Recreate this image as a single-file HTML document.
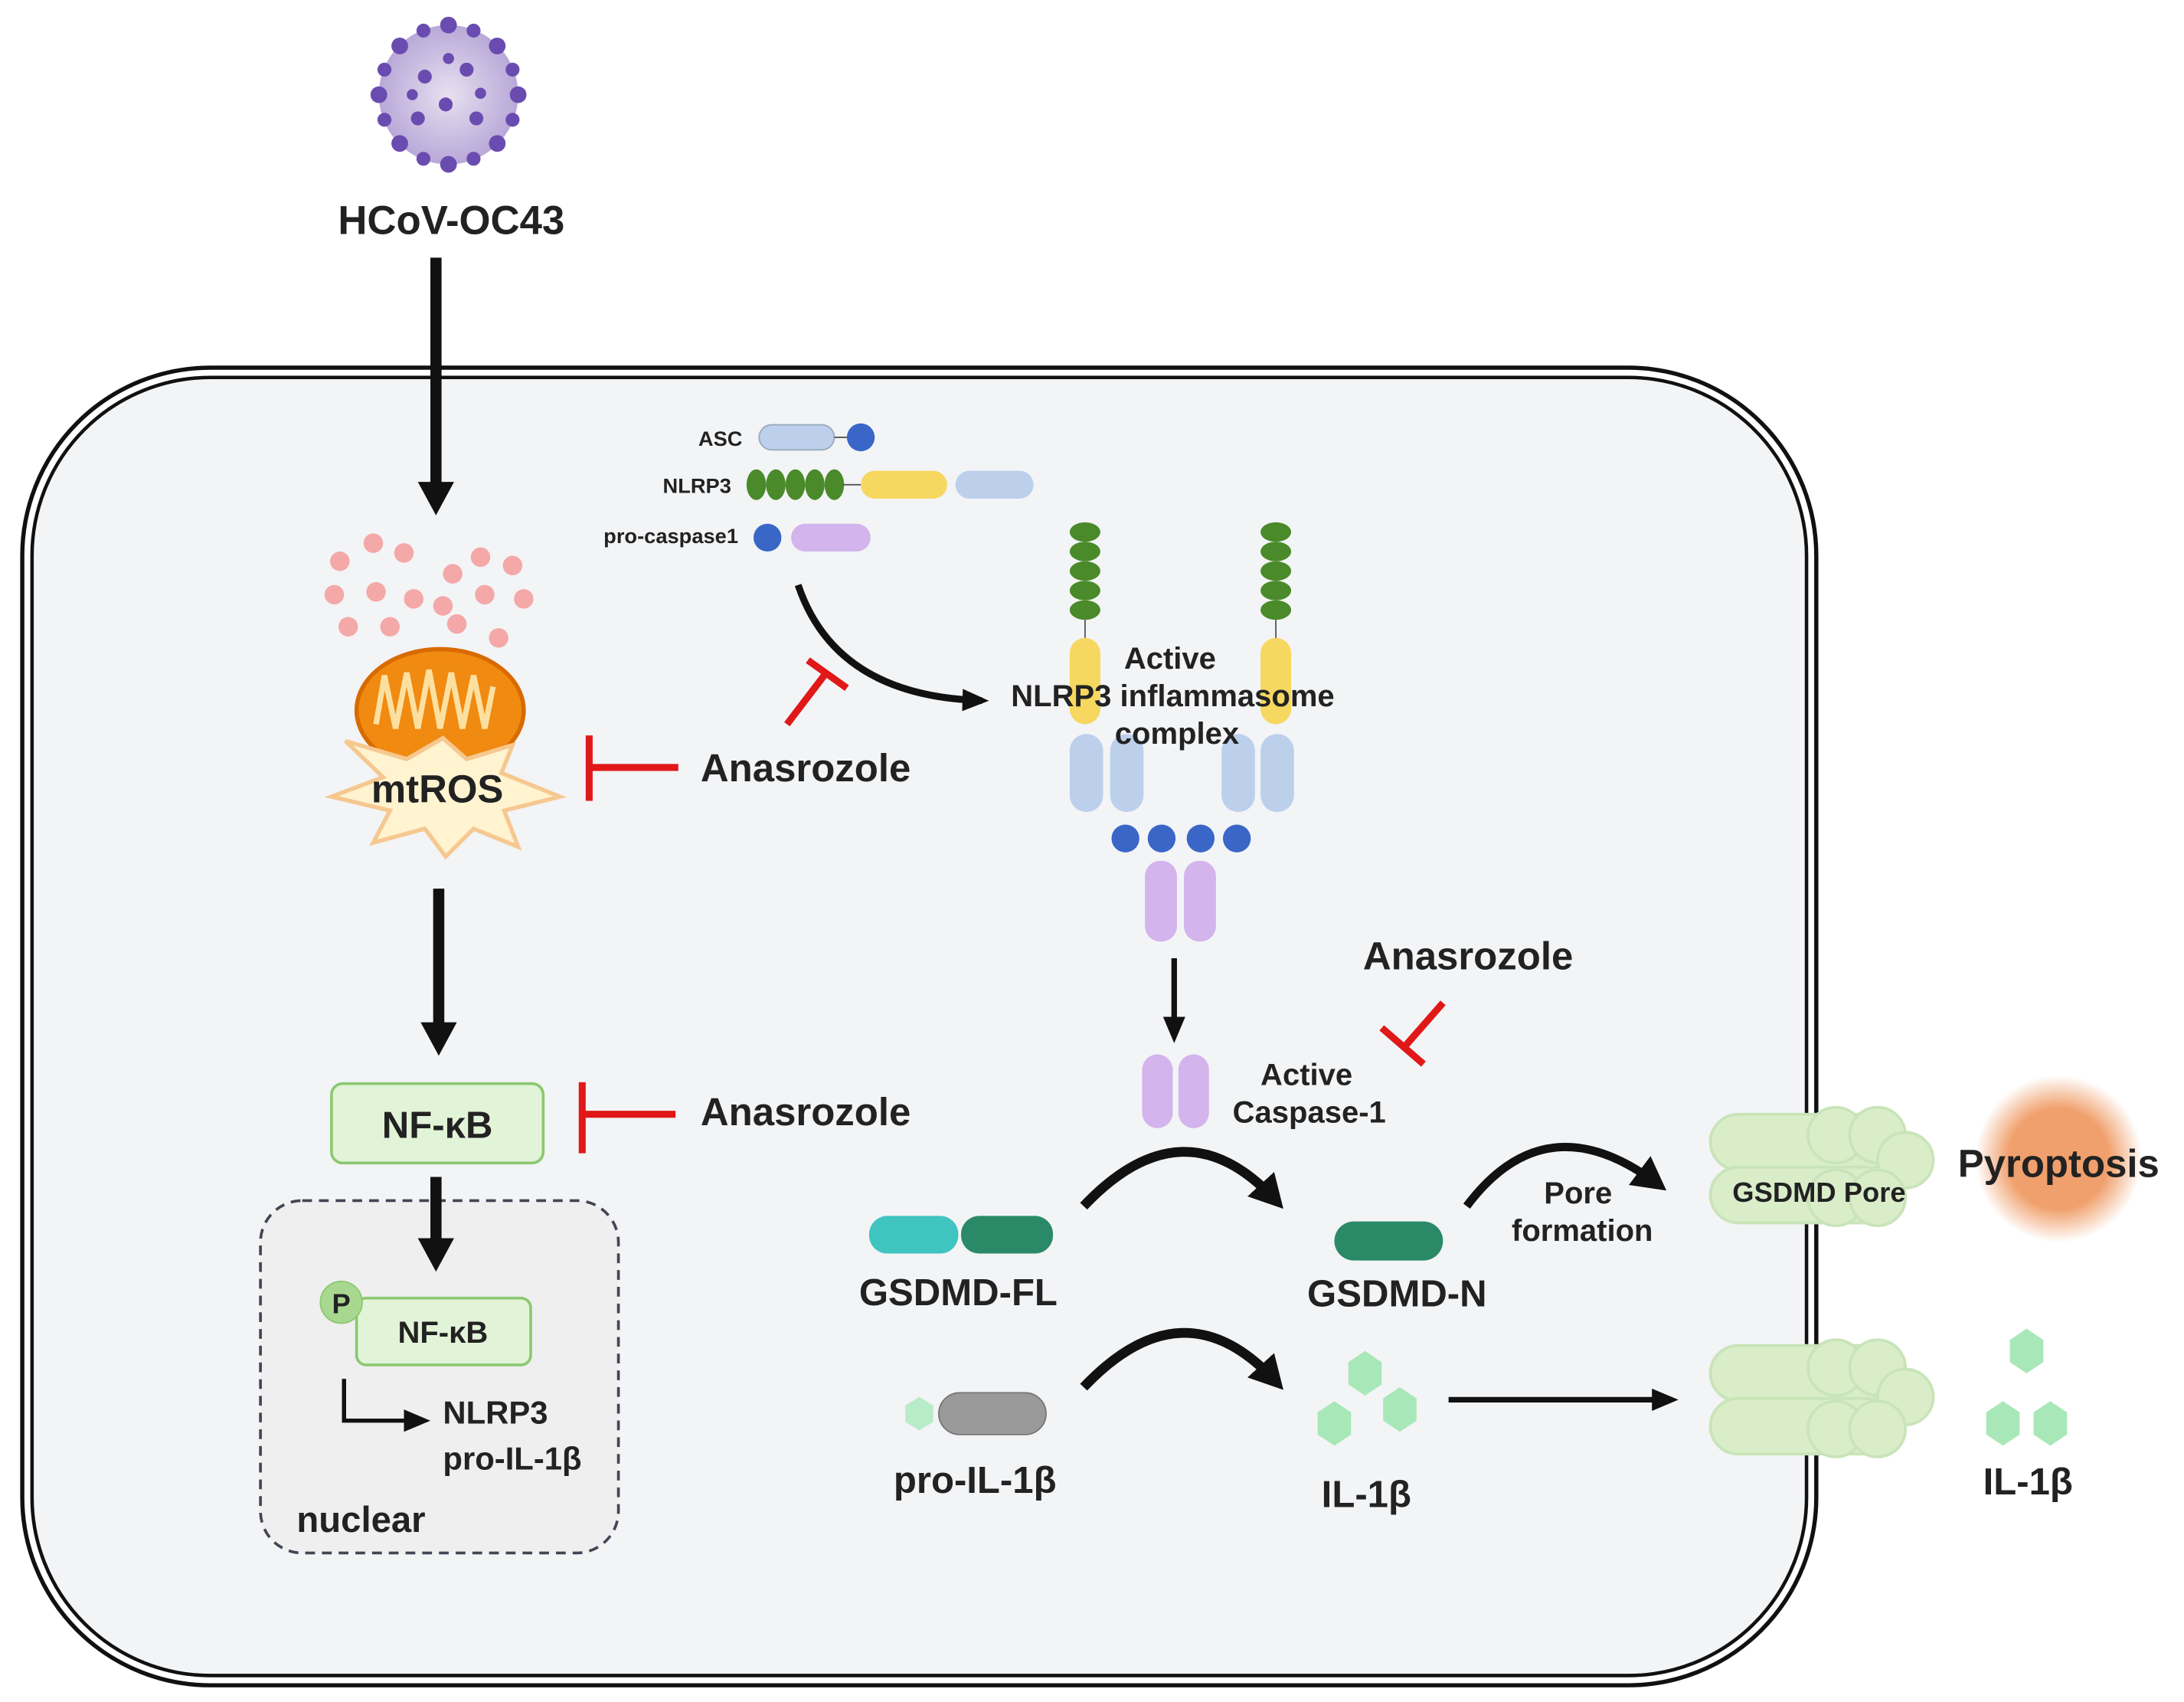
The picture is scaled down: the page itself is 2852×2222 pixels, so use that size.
<!DOCTYPE html>
<html><head><meta charset="utf-8"><style>
html,body{margin:0;padding:0;background:#fff;}
svg{display:block;}
text{font-family:"Liberation Sans",sans-serif;font-weight:bold;fill:#222;}
</style></head><body>
<svg width="2852" height="2222" viewBox="0 0 1568 1222" preserveAspectRatio="none" xmlns="http://www.w3.org/2000/svg">
<defs>
<marker id="ah" markerWidth="26" markerHeight="28" refX="16" refY="14" orient="auto" markerUnits="userSpaceOnUse"><path d="M0,1 L24,14 L0,27 z" fill="#111"/></marker>
<marker id="as" markerWidth="20" markerHeight="20" refX="14" refY="10" orient="auto" markerUnits="userSpaceOnUse"><path d="M0,2 L19,10 L0,18 z" fill="#111"/></marker>
<radialGradient id="py"><stop offset="0.6" stop-color="#f0a06c"/><stop offset="1" stop-color="#f0a06c" stop-opacity="0"/></radialGradient>
<radialGradient id="vr"><stop offset="0" stop-color="#e8e0f0"/><stop offset="1" stop-color="#b8a8d8"/></radialGradient>
</defs>
<rect x="16" y="264" width="1288" height="946" rx="135" fill="#fff" stroke="#111" stroke-width="3"/>
<rect x="23" y="271" width="1274" height="932" rx="128" fill="#f3f4f6" stroke="#111" stroke-width="2.5"/>
<circle cx="322" cy="68" r="50" fill="url(#vr)"/>
<g fill="#6a4cb0">
<circle cx="322" cy="18" r="6"/><circle cx="322" cy="118" r="6"/><circle cx="272" cy="68" r="6"/><circle cx="372" cy="68" r="6"/>
<circle cx="287" cy="33" r="6"/><circle cx="357" cy="33" r="6"/><circle cx="287" cy="103" r="6"/><circle cx="357" cy="103" r="6"/>
<circle cx="304" cy="22" r="5"/><circle cx="340" cy="22" r="5"/><circle cx="304" cy="114" r="5"/><circle cx="340" cy="114" r="5"/>
<circle cx="276" cy="50" r="5"/><circle cx="276" cy="86" r="5"/><circle cx="368" cy="50" r="5"/><circle cx="368" cy="86" r="5"/>
<circle cx="305" cy="55" r="5"/><circle cx="335" cy="50" r="5"/><circle cx="320" cy="75" r="5"/><circle cx="300" cy="85" r="5"/><circle cx="342" cy="85" r="5"/><circle cx="322" cy="42" r="4"/><circle cx="345" cy="67" r="4"/><circle cx="296" cy="68" r="4"/>
</g>
<text x="324" y="168" font-size="29" text-anchor="middle">HCoV-OC43</text>
<line x1="313" y1="185" x2="313" y2="362" stroke="#111" stroke-width="8" marker-end="url(#ah)"/>
<g fill="#f4a8a8">
<circle cx="244" cy="403" r="7"/><circle cx="268" cy="390" r="7"/><circle cx="290" cy="397" r="7"/><circle cx="325" cy="412" r="7"/><circle cx="345" cy="400" r="7"/><circle cx="368" cy="406" r="7"/>
<circle cx="240" cy="427" r="7"/><circle cx="270" cy="425" r="7"/><circle cx="297" cy="430" r="7"/><circle cx="318" cy="435" r="7"/><circle cx="348" cy="427" r="7"/><circle cx="376" cy="430" r="7"/>
<circle cx="250" cy="450" r="7"/><circle cx="280" cy="450" r="7"/><circle cx="328" cy="448" r="7"/><circle cx="358" cy="458" r="7"/>
</g>
<ellipse cx="316" cy="510" rx="60" ry="44" fill="#f08a10" stroke="#d86a00" stroke-width="3"/>
<path d="M270,520 l6,-35 l8,38 l8,-40 l8,40 l8,-42 l8,42 l8,-40 l8,40 l8,-38 l8,38 l6,-30" fill="none" stroke="#fde0a0" stroke-width="4"/>
<polygon points="318,530 335,545 368,535 360,555 402,572 362,582 372,608 340,595 320,615 305,595 268,605 280,582 238,572 275,558 248,532 292,545" fill="#fff3d0" stroke="#f6c890" stroke-width="3"/>
<text x="314" y="576" font-size="28" text-anchor="middle">mtROS</text>
<line x1="487" y1="551" x2="425" y2="551" stroke="#e01818" stroke-width="5"/>
<line x1="423" y1="528" x2="423" y2="575" stroke="#e01818" stroke-width="5"/>
<text x="503" y="561" font-size="28">Anasrozole</text>
<line x1="315" y1="638" x2="315" y2="750" stroke="#111" stroke-width="8" marker-end="url(#ah)"/>
<rect x="238" y="778" width="152" height="57" rx="8" fill="#e2f4d8" stroke="#8cc870" stroke-width="2"/>
<text x="314" y="817" font-size="27" text-anchor="middle">NF-κB</text>
<line x1="485" y1="800" x2="420" y2="800" stroke="#e01818" stroke-width="5"/>
<line x1="418" y1="777" x2="418" y2="828" stroke="#e01818" stroke-width="5"/>
<text x="503" y="808" font-size="28">Anasrozole</text>
<rect x="187" y="862" width="257" height="253" rx="30" fill="#efefef" stroke="#445" stroke-width="2" stroke-dasharray="7,5"/>
<line x1="313" y1="845" x2="313" y2="905" stroke="#111" stroke-width="8" marker-end="url(#ah)"/>
<rect x="256" y="932" width="125" height="48" rx="7" fill="#e2f4d8" stroke="#8cc870" stroke-width="2"/>
<circle cx="245" cy="935" r="15" fill="#a8d890" stroke="#8cc870"/>
<text x="245" y="943" font-size="20" text-anchor="middle">P</text>
<text x="318" y="964" font-size="22" text-anchor="middle">NF-κB</text>
<polyline points="247,990 247,1020 304,1020" fill="none" stroke="#111" stroke-width="3" marker-end="url(#as)"/>
<text x="318" y="1022" font-size="23">NLRP3</text>
<text x="318" y="1055" font-size="23">pro-IL-1β</text>
<text x="213" y="1100" font-size="26">nuclear</text>
<text x="533" y="320" font-size="15" text-anchor="end">ASC</text>
<rect x="545" y="305" width="54" height="18" rx="9" fill="#bcd0ec" stroke="#9ab"/>
<line x1="599" y1="314" x2="610" y2="314" stroke="#555"/>
<circle cx="618" cy="314" r="10" fill="#3a66c8"/>
<text x="525" y="354" font-size="15" text-anchor="end">NLRP3</text>
<g fill="#4a8a2a"><ellipse cx="543" cy="348" rx="7" ry="11"/><ellipse cx="557" cy="348" rx="7" ry="11"/><ellipse cx="571" cy="348" rx="7" ry="11"/><ellipse cx="585" cy="348" rx="7" ry="11"/><ellipse cx="599" cy="348" rx="7" ry="11"/></g>
<line x1="605" y1="348" x2="620" y2="348" stroke="#555"/>
<rect x="618" y="338" width="62" height="20" rx="10" fill="#f6d860"/>
<rect x="686" y="338" width="56" height="20" rx="10" fill="#bcd0ec"/>
<text x="530" y="390" font-size="15" text-anchor="end">pro-caspase1</text>
<circle cx="551" cy="386" r="10" fill="#3a66c8"/>
<rect x="568" y="376" width="57" height="20" rx="10" fill="#d4b4ec"/>
<path d="M573,420 Q600,500 705,503" fill="none" stroke="#111" stroke-width="5" marker-end="url(#as)"/>
<line x1="565" y1="520" x2="594" y2="482" stroke="#e01818" stroke-width="5"/>
<line x1="580" y1="474" x2="608" y2="494" stroke="#e01818" stroke-width="5"/>
<g fill="#4a8a2a">
<ellipse cx="779" cy="382" rx="11" ry="7"/><ellipse cx="779" cy="396" rx="11" ry="7"/><ellipse cx="779" cy="410" rx="11" ry="7"/><ellipse cx="779" cy="424" rx="11" ry="7"/><ellipse cx="779" cy="438" rx="11" ry="7"/>
<ellipse cx="916" cy="382" rx="11" ry="7"/><ellipse cx="916" cy="396" rx="11" ry="7"/><ellipse cx="916" cy="410" rx="11" ry="7"/><ellipse cx="916" cy="424" rx="11" ry="7"/><ellipse cx="916" cy="438" rx="11" ry="7"/>
</g>
<line x1="779" y1="445" x2="779" y2="460" stroke="#555"/><line x1="916" y1="445" x2="916" y2="460" stroke="#555"/>
<rect x="768" y="458" width="22" height="62" rx="11" fill="#f6d860"/>
<rect x="905" y="458" width="22" height="62" rx="11" fill="#f6d860"/>
<g fill="#bcd0ec"><rect x="768" y="527" width="24" height="56" rx="12"/><rect x="797" y="527" width="24" height="56" rx="12"/><rect x="877" y="527" width="24" height="56" rx="12"/><rect x="905" y="527" width="24" height="56" rx="12"/></g>
<g fill="#3a66c8"><circle cx="808" cy="602" r="10"/><circle cx="834" cy="602" r="10"/><circle cx="862" cy="602" r="10"/><circle cx="888" cy="602" r="10"/></g>
<rect x="822" y="618" width="23" height="58" rx="11" fill="#d4b4ec"/><rect x="850" y="618" width="23" height="58" rx="11" fill="#d4b4ec"/>
<text x="840" y="480" font-size="22" text-anchor="middle">Active</text>
<text x="842" y="507" font-size="22" text-anchor="middle">NLRP3 inflammasome</text>
<text x="845" y="534" font-size="22" text-anchor="middle">complex</text>
<line x1="843" y1="688" x2="843" y2="744" stroke="#111" stroke-width="4" marker-end="url(#as)"/>
<rect x="820" y="757" width="22" height="53" rx="11" fill="#d4b4ec"/><rect x="846" y="757" width="22" height="53" rx="11" fill="#d4b4ec"/>
<text x="938" y="779" font-size="22" text-anchor="middle">Active</text>
<text x="940" y="806" font-size="22" text-anchor="middle">Caspase-1</text>
<text x="1054" y="696" font-size="28" text-anchor="middle">Anasrozole</text>
<line x1="1036" y1="720" x2="1008" y2="752" stroke="#e01818" stroke-width="5"/>
<line x1="992" y1="738" x2="1022" y2="764" stroke="#e01818" stroke-width="5"/>
<rect x="624" y="873" width="64" height="27" rx="13" fill="#40c4c0"/>
<rect x="690" y="873" width="66" height="27" rx="13" fill="#2a8a68"/>
<text x="688" y="937" font-size="27" text-anchor="middle">GSDMD-FL</text>
<path d="M778,866 Q850,790 916,862" fill="none" stroke="#111" stroke-width="7" marker-end="url(#ah)"/>
<rect x="958" y="877" width="78" height="28" rx="14" fill="#2a8a68"/>
<text x="1003" y="938" font-size="27" text-anchor="middle">GSDMD-N</text>
<path d="M1053,866 Q1110,790 1190,850" fill="none" stroke="#111" stroke-width="6" marker-end="url(#ah)"/>
<text x="1133" y="864" font-size="22" text-anchor="middle">Pore</text>
<text x="1136" y="891" font-size="22" text-anchor="middle">formation</text>
<g fill="#d8edc8" stroke="#c8e4b8" stroke-width="2">
<rect x="1228" y="800" width="130" height="40" rx="20"/><rect x="1228" y="838" width="130" height="40" rx="20"/>
<circle cx="1318" cy="815" r="20"/><circle cx="1348" cy="815" r="20"/><circle cx="1368" cy="833" r="20"/><circle cx="1318" cy="860" r="20"/><circle cx="1348" cy="860" r="20"/>
<rect x="1228" y="966" width="130" height="40" rx="20"/><rect x="1228" y="1004" width="130" height="40" rx="20"/>
<circle cx="1318" cy="982" r="20"/><circle cx="1348" cy="982" r="20"/><circle cx="1368" cy="1003" r="20"/><circle cx="1318" cy="1026" r="20"/><circle cx="1348" cy="1026" r="20"/>
</g>
<text x="1306" y="863" font-size="20" text-anchor="middle">GSDMD Pore</text>
<circle cx="1478" cy="832" r="60" fill="url(#py)"/>
<text x="1478" y="845" font-size="28" text-anchor="middle">Pyroptosis</text>
<polygon points="660,1003 670,1009 670,1021 660,1027 650,1021 650,1009" fill="#b8ecc8"/>
<rect x="674" y="1000" width="77" height="30" rx="15" fill="#9a9a9a" stroke="#777"/>
<text x="700" y="1072" font-size="27" text-anchor="middle">pro-IL-1β</text>
<path d="M778,996 Q850,920 916,992" fill="none" stroke="#111" stroke-width="7" marker-end="url(#ah)"/>
<g fill="#a8e8b8">
<polygon points="980,970 992,978 992,994 980,1002 968,994 968,978"/>
<polygon points="958,1006 970,1014 970,1030 958,1038 946,1030 946,1014"/>
<polygon points="1005,996 1017,1004 1017,1020 1005,1028 993,1020 993,1004"/>
<polygon points="1455,954 1467,962 1467,978 1455,986 1443,978 1443,962"/>
<polygon points="1438,1006 1450,1014 1450,1030 1438,1038 1426,1030 1426,1014"/>
<polygon points="1472,1006 1484,1014 1484,1030 1472,1038 1460,1030 1460,1014"/>
</g>
<text x="981" y="1082" font-size="27" text-anchor="middle">IL-1β</text>
<text x="1456" y="1073" font-size="27" text-anchor="middle">IL-1β</text>
<line x1="1040" y1="1005" x2="1200" y2="1005" stroke="#111" stroke-width="4" marker-end="url(#as)"/>
</svg>
</body></html>
